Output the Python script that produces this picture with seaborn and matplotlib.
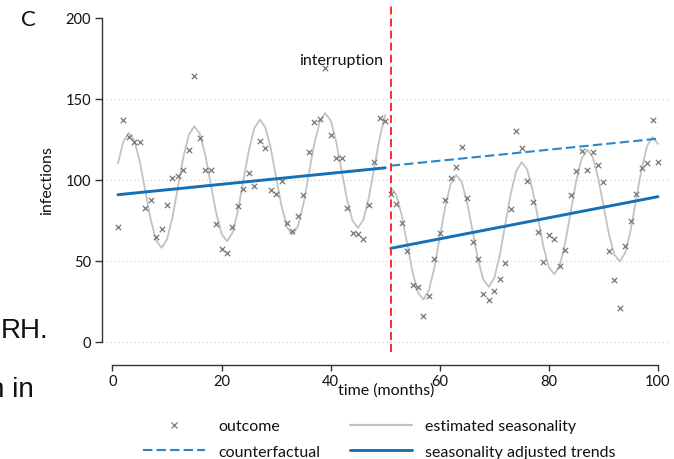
import numpy as np
import pandas as pd
import matplotlib
matplotlib.use("Agg")
import matplotlib.pyplot as plt
from matplotlib.lines import Line2D
import seaborn as sns

# ---- data -------------------------------------------------------------
months = list(range(1, 101))
interruption_month = 51

outcome = [
    71.1, 136.8, 126.7, 123.4, 123.4, 82.4, 87.5, 64.5, 69.6, 84.4,
    101.0, 102.5, 106.0, 118.5, 163.9, 125.9, 106.0, 106.0, 72.7, 57.1,
    54.7, 70.9, 84.0, 94.3, 104.3, 96.3, 124.3, 119.7, 93.8, 91.2,
    99.6, 73.2, 68.8, 77.8, 90.8, 117.2, 136.0, 137.4, 169.0, 127.7,
    113.4, 113.4, 82.4, 67.2, 66.7, 63.5, 84.8, 111.3, 138.0, 136.1,
    91.6, 85.2, 73.5, 56.3, 35.2, 33.7, 16.3, 28.2, 51.2, 67.0,
    87.7, 101.2, 107.8, 120.1, 88.7, 61.8, 51.2, 29.8, 26.2, 31.3,
    38.7, 48.7, 82.0, 130.0, 119.5, 99.2, 86.7, 68.0, 49.3, 66.0,
    63.7, 46.6, 56.5, 90.6, 105.5, 117.9, 106.2, 117.2, 109.2, 98.6,
    56.1, 38.4, 20.8, 59.2, 74.4, 91.6, 107.2, 110.7, 137.2, 111.3,
]

seasonality = [
    110.2, 123.8, 129.1, 124.5, 111.5, 93.6, 75.7, 62.7, 58.1, 63.3,
    77.0, 95.6, 114.2, 127.9, 133.1, 128.6, 115.6, 97.7, 79.8, 66.7,
    62.2, 67.4, 81.1, 99.7, 118.3, 132.0, 137.2, 132.7, 119.7, 101.7,
    83.8, 70.8, 66.2, 71.5, 85.2, 103.8, 122.4, 136.0, 141.3, 136.7,
    123.7, 105.8, 87.9, 74.9, 70.3, 75.5, 89.2, 107.8, 126.4, 140.1,
    95.3, 91.1, 78.4, 60.8, 43.2, 30.5, 26.2, 31.8, 45.8, 64.7,
    83.6, 97.6, 103.1, 98.9, 86.2, 68.6, 51.0, 38.3, 34.0, 39.6,
    53.6, 72.5, 91.4, 105.4, 110.9, 106.7, 94.0, 76.4, 58.8, 46.1,
    41.8, 47.4, 61.4, 80.3, 99.2, 113.2, 118.7, 114.5, 101.8, 84.2,
    66.6, 53.9, 49.6, 55.2, 69.2, 88.1, 107.0, 121.0, 126.5, 122.3,
]

# segment end points (month, value)
trend_pre_months = [1, 50]
trend_pre_values = [90.9, 107.5]
trend_post_months = [51, 100]
trend_post_values = [57.8, 89.7]
counterfactual_months = [51, 100]
counterfactual_values = [108.8, 125.5]

x_ticks = [0, 20, 40, 60, 80, 100]
y_ticks = [0, 50, 100, 150, 200]
grid_levels = [0, 50, 100, 150]

df = pd.DataFrame({"month": months, "outcome": outcome, "seasonality": seasonality})
df["period"] = np.where(df["month"] < interruption_month, "pre", "post")
trends = pd.DataFrame({
    "month": trend_pre_months + trend_post_months,
    "value": trend_pre_values + trend_post_values,
    "period": ["pre", "pre", "post", "post"],
})
cf = pd.DataFrame({"month": counterfactual_months, "value": counterfactual_values})

# ---- style -------------------------------------------------------------
sns.set_theme(style="white")
plt.rcParams["font.family"] = ["Lato", "DejaVu Sans"]
FS = 11.5
FS_TICK = 10.5
INK = "#333333"
TXT = "#111111"
GREY_PTS = "#777777"
GREY_LINE = "#c2c2c2"
BLUE = "#1570b6"
BLUE_CF = "#2d86c4"
RED = "#ff2b2b"

fig = plt.figure(figsize=(6.74, 4.60), dpi=100)
ax = fig.add_axes([102 / 674, 107 / 460, 568 / 674, 346 / 460])

for g in grid_levels:
    ax.axhline(g, color="#d4d4d4", lw=0.9, ls=(0, (1, 2.2)), zorder=0)

sns.lineplot(data=df, x="month", y="seasonality", units="period", estimator=None,
             color=GREY_LINE, lw=1.3, ax=ax, zorder=2)
sns.scatterplot(data=df, x="month", y="outcome", marker="x", s=15,
                color=GREY_PTS, linewidth=0.9, ax=ax, zorder=3)
sns.lineplot(data=cf, x="month", y="value", color=BLUE_CF, lw=1.5,
             dashes=False, ax=ax, zorder=4)
ax.lines[-1].set_linestyle((0, (4.5, 2.0)))
sns.lineplot(data=trends, x="month", y="value", units="period", estimator=None,
             color=BLUE, lw=2.1, ax=ax, zorder=5)

ax.axvline(interruption_month, color=RED, lw=1.4, ls=(0, (4.1, 2.1)), zorder=6)
ax.text(49.6, 174, "interruption", ha="right", va="center", fontsize=FS, color=TXT)

ax.set_xlim(-1.92, 102.2)
ax.set_ylim(-6.2, 207.4)
ax.set_xticks(x_ticks)
ax.set_yticks(y_ticks)
ax.set_xlabel("")
ax.set_ylabel("")

for side in ["top", "right"]:
    ax.spines[side].set_visible(False)
ax.spines["left"].set_bounds(0, 200)
ax.spines["bottom"].set_bounds(0, 100)
ax.spines["bottom"].set_position(("outward", 9))
for side in ["left", "bottom"]:
    ax.spines[side].set_color(INK)
    ax.spines[side].set_linewidth(1.0)

ax.tick_params(axis="y", direction="out", length=5, width=1.0, color=INK,
               pad=3, labelsize=FS_TICK, labelcolor=TXT, left=True)
ax.tick_params(axis="x", direction="out", length=4.5, width=1.0, color=INK,
               pad=2, labelsize=FS_TICK, labelcolor=TXT, bottom=True)

fig.text(47 / 674, 1 - 181 / 460, "infections", rotation=90, ha="center", va="center",
         fontsize=FS, color=TXT)
fig.text(386 / 674, 1 - 391 / 460, "time (months)", ha="center", va="center",
         fontsize=FS, color=TXT)
fig.text(21 / 674, 1 - 20 / 460, "C", ha="left", va="center", fontsize=16, color=TXT)

# fragments of the surrounding page text at the left margin
narrow = ["Liberation Sans Narrow", "Liberation Sans", "DejaVu Sans"]
fig.text(1 / 674, 1 - 331 / 460, "RH.", ha="left", va="center", fontsize=20,
         family=narrow, color=TXT)
fig.text(-11 / 674, 1 - 390 / 460, "n in", ha="left", va="center", fontsize=20,
         family=narrow, color=TXT)

handles = [
    Line2D([], [], ls="none", marker="x", ms=3.7, mew=0.9, color=GREY_PTS),
    Line2D([], [], color=BLUE_CF, lw=1.5, ls=(0, (4.5, 2.0))),
    Line2D([], [], color=GREY_LINE, lw=1.6),
    Line2D([], [], color=BLUE, lw=2.1),
]
labels = ["outcome", "counterfactual", "estimated seasonality", "seasonality adjusted trends"]
fig.legend(handles, labels, ncol=2, loc="upper left",
           bbox_to_anchor=(143 / 674, 1 - 420 / 460), frameon=False,
           fontsize=FS, handlelength=3.9, handletextpad=0.8, columnspacing=1.85,
           borderpad=0, borderaxespad=0, labelspacing=0.7, labelcolor=TXT)

fig.savefig("out.png", dpi=100)
